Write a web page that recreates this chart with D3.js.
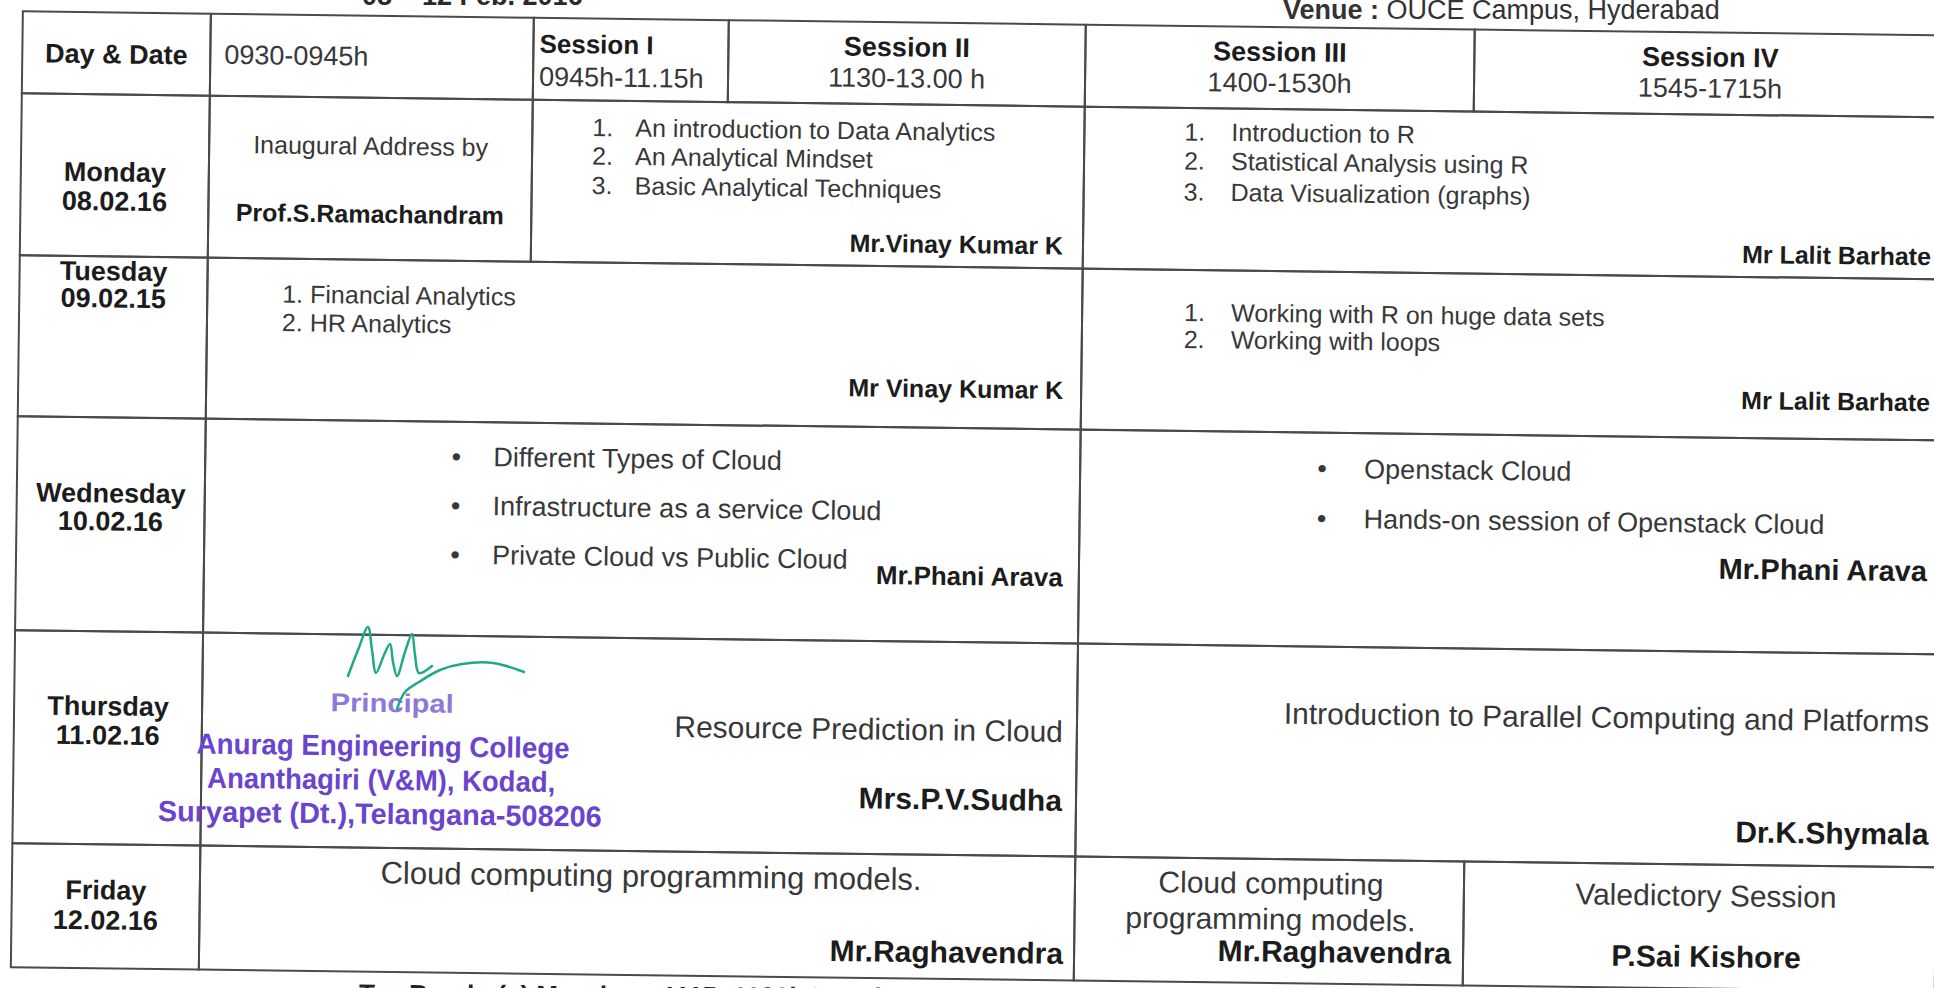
<!DOCTYPE html>
<html><head><meta charset="utf-8">
<script src="https://cdn.jsdelivr.net/npm/d3@7/dist/d3.min.js"></script>
<style>html,body{margin:0;padding:0;background:#fff;overflow:hidden}</style>
</head><body>
<svg id="chart" width="1934" height="988"></svg>
<script>
// ---------------- DATA ----------------
const headerLabels = ["Day & Date", "0930-0945h"];
const sessionNames = ["Session I", "Session II", "Session III", "Session IV"];
const sessionTimes = ["0945h-11.15h", "1130-13.00 h", "1400-1530h", "1545-1715h"];
const dayNames = ["Monday", "Tuesday", "Wednesday", "Thursday", "Friday"];
const dayDates = ["08.02.16", "09.02.15", "10.02.16", "11.02.16", "12.02.16"];
const inauguralLines = ["Inaugural Address by", "Prof.S.Ramachandram"];
const mondayMorningTopics = ["An introduction to Data Analytics", "An Analytical Mindset", "Basic Analytical Techniques"];
const mondayAfternoonTopics = ["Introduction to R", "Statistical Analysis using R", "Data Visualization (graphs)"];
const tuesdayMorningTopics = ["Financial Analytics", "HR Analytics"];
const tuesdayAfternoonTopics = ["Working with R on huge data sets", "Working with loops"];
const wednesdayMorningTopics = ["Different Types of Cloud", "Infrastructure as a service Cloud", "Private Cloud vs Public Cloud"];
const wednesdayAfternoonTopics = ["Openstack Cloud", "Hands-on session of Openstack Cloud"];
const thursdayMorningTopic = "Resource Prediction in Cloud";
const thursdayAfternoonTopic = "Introduction to Parallel Computing and Platforms";
const fridayMorningTopic = "Cloud computing programming models.";
const fridaySession3Topic = ["Cloud computing", "programming models."];
const fridaySession4Topic = "Valedictory Session";
const morningSpeakers = ["Mr.Vinay Kumar K", "Mr Vinay Kumar K", "Mr.Phani Arava", "Mrs.P.V.Sudha", "Mr.Raghavendra"];
const afternoonSpeakers = ["Mr Lalit Barhate", "Mr Lalit Barhate", "Mr.Phani Arava", "Dr.K.Shymala", "Mr.Raghavendra"];
const closingSpeaker = "P.Sai Kishore";
const periodNote = "08 \u2013 12 Feb. 2016";
const venueLabel = "Venue :";
const venueName = " OUCE Campus, Hyderabad";
const breakNote = "Tea Break: (a) Morning : 1115 -1130h          Lunch : 1300-1400h";
const stampLines = ["Principal", "Anurag Engineering College", "Ananthagiri (V&M), Kodad,", "Suryapet (Dt.),Telangana-508206"];

// ---------------- LAYOUT ----------------
const W = 1934, H = 988;
const FONT = "'Liberation Sans', Arial, Helvetica, sans-serif";
const svg = d3.select("#chart");
svg.append("rect").attr("width", W).attr("height", H).attr("fill", "#ffffff");

const colKeys = ["day", "opening", "s1", "s2", "s3", "s4", "end"];
const x = d3.scaleOrdinal().domain(colKeys).range([23, 211, 534, 729, 1086, 1475, 1947]);
const edgeKeys = ["top", "mon", "tue", "wed", "thu", "fri", "bottom"];
const y = d3.scaleOrdinal().domain(edgeKeys).range([11, 93, 255, 416, 630, 843, 967]);
const rowTop = i => y(edgeKeys[i]), rowBottom = i => y(edgeKeys[i + 1]);

// scanned page is slightly rotated
const g = svg.append("g").attr("transform", "rotate(0.72)");

// cells: [row, fromCol, toCol]
const cellSpans = [
  [0, "day", "opening"], [0, "opening", "s1"], [0, "s1", "s2"], [0, "s2", "s3"], [0, "s3", "s4"], [0, "s4", "end"],
  [1, "day", "opening"], [1, "opening", "s1"], [1, "s1", "s3"], [1, "s3", "end"],
  [2, "day", "opening"], [2, "opening", "s3"], [2, "s3", "end"],
  [3, "day", "opening"], [3, "opening", "s3"], [3, "s3", "end"],
  [4, "day", "opening"], [4, "opening", "s3"], [4, "s3", "end"],
  [5, "day", "opening"], [5, "opening", "s3"], [5, "s3", "s4"], [5, "s4", "end"]
];
g.selectAll("rect.cell").data(cellSpans).join("rect").attr("class", "cell")
  .attr("x", d => x(d[1])).attr("y", d => rowTop(d[0]))
  .attr("width", d => x(d[2]) - x(d[1])).attr("height", d => rowBottom(d[0]) - rowTop(d[0]))
  .attr("fill", "none").attr("stroke", "#4a4a4a").attr("stroke-width", 2);

// text specs
const T = [];
const add = (text, tx, ty, size, bold, anchor) => T.push({text, tx, ty, size, bold: !!bold, anchor: anchor || "start"});
const mid = (a, b) => (x(a) + x(b)) / 2;

// header
add(headerLabels[0], mid("day", "opening"), 53, 27, true, "middle");
add(headerLabels[1], x("opening") + 14, 52, 27, false);
add(sessionNames[0], x("s1") + 6, 37, 26, true);
add(sessionTimes[0], x("s1") + 6, 70, 27, false);
[["s2", "s3"], ["s3", "s4"], ["s4", "end"]].forEach((c, i) => {
  add(sessionNames[i + 1], mid(c[0], c[1]), 36, 27, true, "middle");
  add(sessionTimes[i + 1], mid(c[0], c[1]), 67, 27, false, "middle");
});

// day labels
const dayY = [[171, 200], [270, 297], [492, 520], [705, 734], [889, 919]];
dayNames.forEach((d, i) => {
  add(d, mid("day", "opening"), dayY[i][0], 27, true, "middle");
  add(dayDates[i], mid("day", "opening"), dayY[i][1], 27, true, "middle");
});

// Monday
add(inauguralLines[0], mid("opening", "s1"), 141, 25, false, "middle");
add(inauguralLines[1], mid("opening", "s1"), 209, 25, true, "middle");
const monY1 = [119.5, 148, 177.5];
mondayMorningTopics.forEach((t, i) => { add((i + 1) + ".", 594, monY1[i], 25); add(t, 637, monY1[i], 25); });
add(morningSpeakers[0], 1066, 232, 25, true, "end");
const monY2 = [116.5, 145.5, 176.5];
mondayAfternoonTopics.forEach((t, i) => { add((i + 1) + ".", 1186, monY2[i], 25); add(t, 1233, monY2[i], 25); });
add(afternoonSpeakers[0], 1934, 232, 25, true, "end");

// Tuesday
const tueY1 = [290, 318.5];
tuesdayMorningTopics.forEach((t, i) => add((i + 1) + ". " + t, 286, tueY1[i], 25));
add(morningSpeakers[1], 1068, 376.5, 25, true, "end");
const tueY2 = [297, 324];
tuesdayAfternoonTopics.forEach((t, i) => { add((i + 1) + ".", 1188, tueY2[i], 25); add(t, 1235, tueY2[i], 25); });
add(afternoonSpeakers[1], 1935, 378, 25, true, "end");

// Wednesday
const wedY1 = [451, 500, 549];
wednesdayMorningTopics.forEach((t, i) => { add("\u2022", 462, wedY1[i], 27, false, "middle"); add(t, 499, wedY1[i], 27); });
add(morningSpeakers[2], 1070, 564, 26, true, "end");
const wedY2 = [452, 502];
wednesdayAfternoonTopics.forEach((t, i) => { add("\u2022", 1328, wedY2[i], 27, false, "middle"); add(t, 1370, wedY2[i], 27); });
add(afternoonSpeakers[2], 1934, 547, 29, true, "end");

// Thursday
add(thursdayMorningTopic, 1072, 718, 30, false, "end");
add(morningSpeakers[3], 1072, 787, 30, true, "end");
add(thursdayAfternoonTopic, 1938, 697, 30, false, "end");
add(afternoonSpeakers[3], 1939, 810, 30, true, "end");

// Friday
add(fridayMorningTopic, 662, 868, 31, false, "middle");
add(morningSpeakers[4], 1075, 940, 30, true, "end");
add(fridaySession3Topic[0], 1282, 867, 30, false, "middle");
add(fridaySession3Topic[1], 1282, 903, 30, false, "middle");
add(afternoonSpeakers[4], 1463, 935, 30, true, "end");
add(fridaySession4Topic, 1717, 874, 30, false, "middle");
add(closingSpeaker, 1718, 935, 30, true, "middle");

g.selectAll("text.cellText").data(T).join("text").attr("class", "cellText")
  .attr("x", d => d.tx).attr("y", d => d.ty)
  .attr("dominant-baseline", "central")
  .attr("text-anchor", d => d.anchor)
  .attr("font-family", FONT).attr("font-size", d => d.size)
  .attr("font-weight", d => d.bold ? "bold" : "normal")
  .attr("fill", d => d.bold ? "#1c1c1c" : "#383838")
  .text(d => d.text);

// cut-off notes above and below the table
svg.append("text").attr("x", 362).attr("y", 5).attr("font-family", FONT).attr("font-size", 27)
  .attr("font-weight", "bold").attr("fill", "#2a2a2a").text(periodNote);
const venue = svg.append("text").attr("x", 1283).attr("y", 10).attr("dominant-baseline", "central")
  .attr("font-family", FONT).attr("font-size", 27).attr("fill", "#333");
venue.append("tspan").attr("font-weight", "bold").text(venueLabel);
venue.append("tspan").text(venueName);
svg.append("text").attr("x", 366).attr("y", 1000).attr("font-family", FONT).attr("font-size", 26)
  .attr("font-weight", "bold").attr("fill", "#222").attr("transform", "rotate(0.4)").text(breakNote);

// stamp and signature
const stamp = svg.append("g").attr("transform", "rotate(0.72)");
const stampSpec = [
  {x: 401, y: 698, size: 26, len: 123, fill: "#8e78da", anchor: "middle"},
  {x: 206, y: 741, size: 29, len: 373, fill: "#6a44cf", anchor: "start"},
  {x: 217, y: 775, size: 29, len: 348, fill: "#6a44cf", anchor: "start"},
  {x: 168, y: 809, size: 29, len: 444, fill: "#6a44cf", anchor: "start"}
];
stamp.selectAll("text").data(stampLines).join("text")
  .attr("x", (d, i) => stampSpec[i].x).attr("y", (d, i) => stampSpec[i].y)
  .attr("dominant-baseline", "central").attr("text-anchor", (d, i) => stampSpec[i].anchor)
  .attr("font-family", "'Liberation Sans Narrow', 'Arial Narrow', " + FONT)
  .attr("font-weight", "bold").attr("font-size", (d, i) => stampSpec[i].size)
  .attr("textLength", (d, i) => stampSpec[i].len).attr("lengthAdjust", "spacingAndGlyphs")
  .attr("fill", (d, i) => stampSpec[i].fill).text(d => d);

const signatureStrokes = [
  [[348, 676], [358, 650], [368, 627], [372, 650], [376, 673], [384, 655], [390, 644], [393, 662], [397, 676], [405, 652], [412, 634], [415, 655], [419, 673], [432, 666]],
  [[397, 709], [405, 692], [419, 682], [440, 670], [462, 664], [493, 663], [524, 672]]
];
svg.selectAll("path.sig").data(signatureStrokes).join("path").attr("class", "sig")
  .attr("d", d3.line().curve(d3.curveCatmullRom))
  .attr("fill", "none").attr("stroke", "#1fa98a").attr("stroke-width", 2.5).attr("stroke-linecap", "round");
</script>
</body></html>
